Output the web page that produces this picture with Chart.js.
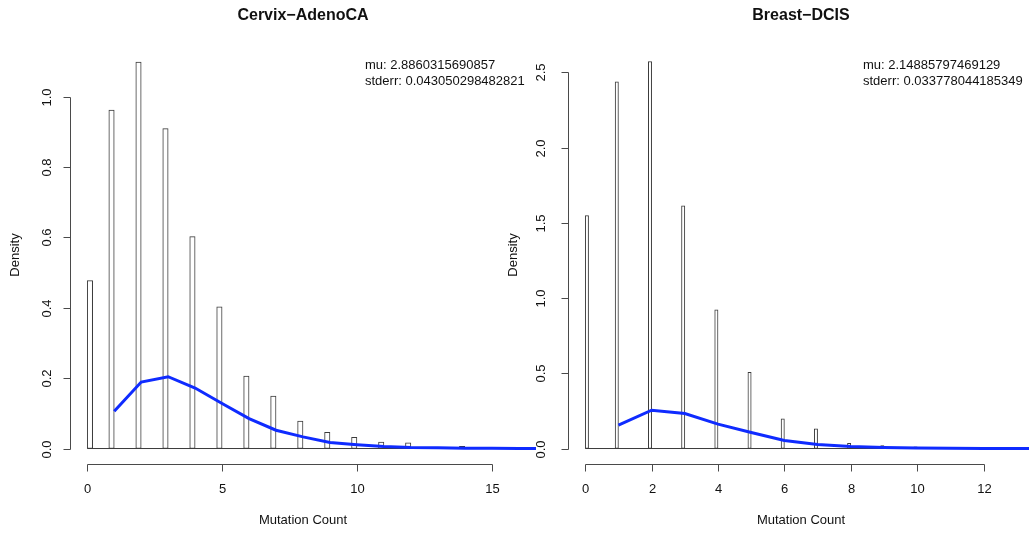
<!DOCTYPE html>
<html>
<head>
<meta charset="utf-8">
<script src="https://cdn.jsdelivr.net/npm/chart.js@4/dist/chart.umd.min.js"></script>
<style>
  html, body { margin: 0; padding: 0; background: #fff; }
  #wrap { position: relative; width: 1029px; height: 533px; overflow: hidden; background: #fff; }
  .box { position: absolute; top: 0; }
  canvas { display: block; }
</style>
</head>
<body>
<div id="wrap">
  <div class="box" style="left:0px"><canvas id="cervix" width="540" height="533"></canvas></div>
  <div class="box" style="left:489px"><canvas id="breast" width="546" height="533"></canvas></div>
</div>
<script>
// ---- Cervix-AdenoCA ----
const cervixCounts  = [0, 1, 2, 3, 4, 5, 6, 7, 8, 9, 10, 11, 12, 13, 14];
const cervixDensity = [0.477, 0.962, 1.098, 0.909, 0.602, 0.403, 0.206, 0.149, 0.078, 0.046, 0.032, 0.018, 0.016, 0, 0.006];
const cervixFitX    = [1, 2, 3, 4, 5, 6, 7, 8, 9, 10, 11, 12, 13, 14, 15, 16, 17];
const cervixFitY    = [0.106, 0.189, 0.204, 0.172, 0.128, 0.085, 0.052, 0.033, 0.017, 0.011, 0.006, 0.003, 0.002, 0.001, 0.0005, 0.0002, 0.0001];
const cervixBreaks  = [0, 16];
const cervixXTicks  = [0, 5, 10, 15];
const cervixYTicks  = [0, 0.2, 0.4, 0.6, 0.8, 1.0];
const cervixYLabels = ['0.0', '0.2', '0.4', '0.6', '0.8', '1.0'];
const cervixStats   = ['mu: 2.8860315690857', 'stderr: 0.043050298482821'];

// ---- Breast-DCIS ----
const breastCounts  = [0, 1, 2, 3, 4, 5, 6, 7, 8, 9, 10, 11, 12];
const breastDensity = [1.549, 2.437, 2.573, 1.613, 0.922, 0.507, 0.197, 0.131, 0.035, 0.020, 0.011, 0, 0.005];
const breastFitX    = [1, 2, 3, 4, 5, 6, 7, 8, 9, 10, 11, 12, 13, 14];
const breastFitY    = [0.155, 0.255, 0.233, 0.162, 0.107, 0.053, 0.027, 0.013, 0.006, 0.003, 0.001, 0.0005, 0.0002, 0.0001];
const breastBreaks  = [0, 13];
const breastXTicks  = [0, 2, 4, 6, 8, 10, 12];
const breastYTicks  = [0, 0.5, 1.0, 1.5, 2.0, 2.5];
const breastYLabels = ['0.0', '0.5', '1.0', '1.5', '2.0', '2.5'];
const breastStats   = ['mu: 2.14885797469129', 'stderr: 0.033778044185349'];

const FONT = '"Liberation Sans", Arial, Helvetica, sans-serif';

// Base-graphics style axes: detached axis lines spanning first..last tick
const baseAxes = {
  id: 'baseAxes',
  afterDraw(chart, args, o) {
    const { ctx, chartArea: a, scales: { x, y } } = chart;
    ctx.save();
    ctx.strokeStyle = '#4a4a4a';
    ctx.lineWidth = 1;

    // x axis along the bottom of the plot region
    const xs = o.xTicks.map(v => Math.round(x.getPixelForValue(v)) + 0.5);
    const yb = Math.round(a.bottom) + 0.5;
    ctx.beginPath();
    ctx.moveTo(xs[0], yb);
    ctx.lineTo(xs[xs.length - 1], yb);
    xs.forEach(px => { ctx.moveTo(px, yb); ctx.lineTo(px, yb + 7); });
    // y axis along the left of the plot region
    const ys = o.yTicks.map(v => Math.round(y.getPixelForValue(v)) + 0.5);
    const xl = Math.round(a.left) + 0.5;
    ctx.moveTo(xl, ys[0]);
    ctx.lineTo(xl, ys[ys.length - 1]);
    ys.forEach(py => { ctx.moveTo(xl, py); ctx.lineTo(xl - 7, py); });
    ctx.stroke();

    ctx.fillStyle = '#111';
    ctx.font = '13px ' + FONT;
    ctx.textAlign = 'center';
    ctx.textBaseline = 'middle';
    o.xTicks.forEach((v, i) => ctx.fillText(String(v), xs[i], a.bottom + 25));
    o.yTicks.forEach((v, i) => {
      ctx.save();
      ctx.translate(a.left - o.yLabelGap, ys[i]);
      ctx.rotate(-Math.PI / 2);
      ctx.fillText(o.yLabels[i], 0, 0);
      ctx.restore();
    });

    // axis titles
    ctx.fillText('Mutation Count', (a.left + a.right) / 2, a.bottom + 56);
    ctx.save();
    ctx.translate(a.left - 55, (a.top + a.bottom) / 2);
    ctx.rotate(-Math.PI / 2);
    ctx.fillText('Density', 0, 0);
    ctx.restore();

    // main title
    ctx.font = 'bold 16px ' + FONT;
    ctx.textBaseline = 'alphabetic';
    ctx.fillText(o.title, (a.left + a.right) / 2, 19.5);

    // estimate text, top right
    ctx.font = '13px ' + FONT;
    ctx.textAlign = 'left';
    o.stats.forEach((s, i) => ctx.fillText(s, a.right - o.statsInset, 69 + i * 15.5));
    ctx.restore();
  }
};

function makeHist(id, cfg) {
  const pad = { left: cfg.padLeft, right: cfg.padRight, top: 46, bottom: 69 };
  const canvas = document.getElementById(id);
  const areaW = canvas.width - pad.left - pad.right;
  const pxPerUnit = areaW / (cfg.xMax - cfg.xMin);
  const binW = cfg.binWidth;

  const bars = cfg.counts.map((k, i) => ({ x: k === 0 ? binW / 2 : k - binW / 2, y: cfg.density[i] }));
  const fit = cfg.fitX.map((k, i) => ({ x: k, y: cfg.fitY[i] }));
  const base = cfg.breaks.map(b => ({ x: b, y: 0 }));

  return new Chart(canvas, {
    type: 'bar',
    data: {
      datasets: [
        {
          type: 'bar', data: bars, order: 2,
          backgroundColor: '#ffffff', borderColor: '#3a3a3a', borderWidth: 1,
          borderSkipped: false, barThickness: binW * pxPerUnit, grouped: false
        },
        {
          type: 'line', data: base, order: 1,
          borderColor: '#3a3a3a', borderWidth: 1, pointRadius: 0, tension: 0
        },
        {
          type: 'line', data: fit, order: 0,
          borderColor: '#0f2bff', borderWidth: 3, pointRadius: 0, tension: 0
        }
      ]
    },
    options: {
      responsive: false,
      animation: false,
      devicePixelRatio: 1,
      layout: { padding: pad },
      plugins: {
        legend: { display: false },
        tooltip: { enabled: false },
        baseAxes: {
          xTicks: cfg.xTicks, yTicks: cfg.yTicks, yLabels: cfg.yLabels,
          yLabelGap: cfg.yLabelGap, title: cfg.title, stats: cfg.stats, statsInset: 171
        }
      },
      scales: {
        x: { type: 'linear', min: cfg.xMin, max: cfg.xMax, offset: false, display: false },
        y: { type: 'linear', min: cfg.yMin, max: cfg.yMax, display: false }
      }
    },
    plugins: [baseAxes]
  });
}

makeHist('cervix', {
  counts: cervixCounts, density: cervixDensity, fitX: cervixFitX, fitY: cervixFitY,
  breaks: cervixBreaks, binWidth: 0.2,
  xTicks: cervixXTicks, yTicks: cervixYTicks, yLabels: cervixYLabels,
  xMin: -0.64, xMax: 16.64, yMin: -0.044, yMax: 1.144,
  padLeft: 70, padRight: 4, yLabelGap: 23,
  title: 'Cervix\u2212AdenoCA', stats: cervixStats
});

makeHist('breast', {
  counts: breastCounts, density: breastDensity, fitX: breastFitX, fitY: breastFitY,
  breaks: breastBreaks, binWidth: 0.1,
  xTicks: breastXTicks, yTicks: breastYTicks, yLabels: breastYLabels,
  xMin: -0.52, xMax: 13.52, yMin: -0.1029, yMax: 2.676,
  padLeft: 79, padRight: 1, yLabelGap: 27,
  title: 'Breast\u2212DCIS', stats: breastStats
});
</script>
</body>
</html>
